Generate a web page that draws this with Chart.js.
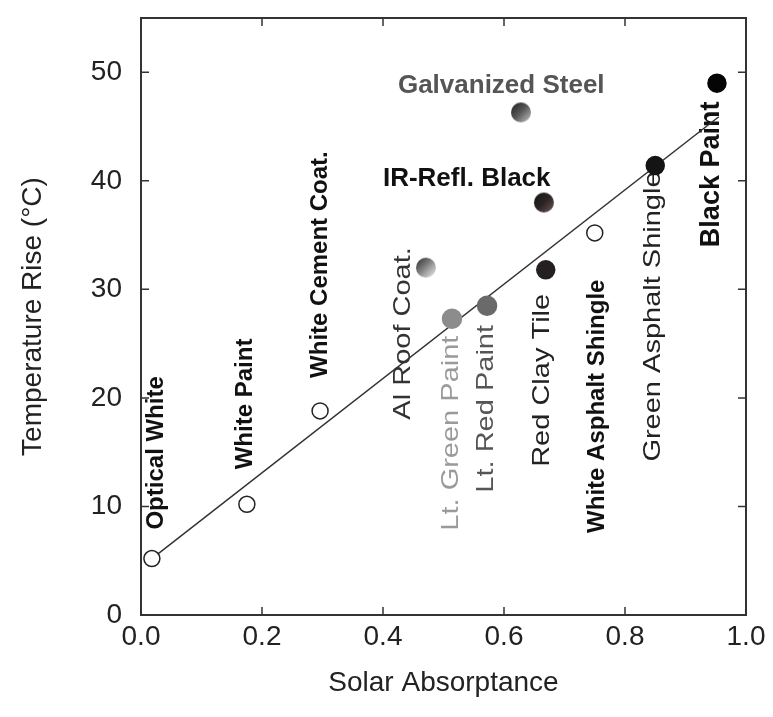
<!DOCTYPE html>
<html>
<head>
<meta charset="utf-8">
<script src="https://cdn.jsdelivr.net/npm/chart.js@4/dist/chart.umd.min.js"></script>
<style>
  html, body { margin: 0; padding: 0; background: #fff; }
</style>
</head>
<body>
<canvas id="chartRoof" width="773" height="717"></canvas>
<script>
// materiales y valores
const materials = [
  "Optical White", "White Paint", "White Cement Coat.", "Al Roof Coat.",
  "Lt. Green Paint", "Lt. Red Paint", "Galvanized Steel", "IR-Refl. Black",
  "Red Clay Tile", "White Asphalt Shingle", "Green Asphalt Shingle", "Black Paint",
];
const absorptance = [0.018, 0.175, 0.296, 0.471, 0.514, 0.572, 0.628, 0.666, 0.669, 0.750, 0.850, 0.952];
const tempRise = [5.2, 10.2, 18.8, 32.0, 27.3, 28.5, 46.3, 38.0, 31.8, 35.2, 41.4, 49.0];

// recta de ajuste (extremos)
const fitX = [0.018, 0.955];
const fitY = [5.2, 45.9];

const xTicks = [0, 0.2, 0.4, 0.6, 0.8, 1.0];
const yTicks = [0, 10, 20, 30, 40, 50];

// estilo de cada marcador
const markerKind = ["open", "open", "open", "alroof", "ltgreen", "ltred", "galv", "irblack", "clay", "open", "green", "black"];

// donde va cada etiqueta respecto al punto (px)
const labelSpots = [
  { dx: 4, dy: -29, vertical: true, style: "bold" },
  { dx: -2, dy: -35, vertical: true, style: "bold" },
  { dx: 0, dy: -33, vertical: true, style: "bold" },
  { dx: -22, dy: 152, vertical: true, style: "regular", color: "#333" },
  { dx: 0, dy: 212, vertical: true, style: "regular", color: "#9a9a9a" },
  { dx: 0, dy: 187, vertical: true, style: "regular", color: "#555" },
  { dx: -123, dy: -27, vertical: false, style: "flat", color: "#555" },
  { dx: -161, dy: -24, vertical: false, style: "flat", color: "#111" },
  { dx: -3, dy: 197, vertical: true, style: "regular", color: "#222" },
  { dx: 3, dy: 300, vertical: true, style: "bold" },
  { dx: -2, dy: 296, vertical: true, style: "regular", color: "#222" },
  { dx: -5, dy: 164, vertical: true, style: "bold", size: 27 },
];

const FONT = '"Liberation Sans", Arial, sans-serif';

const ball = (r, c1, c2, c3) => {
  const c = document.createElement("canvas");
  c.width = c.height = 2 * r + 2;
  const g = c.getContext("2d");
  const m = r + 1;
  const grad = g.createLinearGradient(m - r, m - r, m + r, m + r);
  grad.addColorStop(0, c1);
  grad.addColorStop(0.5, c2);
  grad.addColorStop(1, c3);
  g.fillStyle = grad;
  g.beginPath();
  g.arc(m, m, r, 0, Math.PI * 2);
  g.fill();
  return c;
};

const markerStyles = {
  open: { style: "circle", radius: 8, bg: "#fff", border: "#222" },
  alroof: { style: ball(10, "#2a2a2a", "#8a8a8a", "#f2f2f2") },
  ltgreen: { style: "circle", radius: 9.5, bg: "#8c8c8c", border: "#8c8c8c" },
  ltred: { style: "circle", radius: 9.5, bg: "#6a6a6a", border: "#6a6a6a" },
  galv: { style: ball(10, "#1e1e1e", "#5a5a5a", "#c8c8c8") },
  irblack: { style: ball(10, "#141414", "#2c2424", "#6a5a55") },
  clay: { style: "circle", radius: 9, bg: "#242020", border: "#242020" },
  green: { style: "circle", radius: 9, bg: "#141414", border: "#141414" },
  black: { style: "circle", radius: 9, bg: "#050505", border: "#050505" },
};

const points = absorptance.map((x, i) => ({ x: x, y: tempRise[i] }));
const fitLine = fitX.map((x, i) => ({ x: x, y: fitY[i] }));

const labelPlugin = {
  id: "labelPlugin",
  beforeDatasetsDraw(chart) {
    const ctx = chart.ctx;
    chart.getDatasetMeta(0).data.forEach((pt, i) => {
      const s = labelSpots[i];
      ctx.save();
      ctx.translate(pt.x + s.dx, pt.y + s.dy);
      if (s.vertical) ctx.rotate(-Math.PI / 2);
      if (s.style === "regular") {
        ctx.scale(1, 0.8);
        ctx.font = "29px " + FONT;
      } else if (s.style === "flat") {
        ctx.font = "bold 26px " + FONT;
      } else {
        ctx.font = "bold " + (s.size || 24) + "px " + FONT;
      }
      ctx.fillStyle = s.color || "#111";
      ctx.textAlign = "left";
      ctx.textBaseline = "middle";
      ctx.fillText(materials[i], 0, 0);
      ctx.restore();
    });
  },
};

const framePlugin = {
  id: "framePlugin",
  afterDatasetsDraw(chart) {
    const { ctx, chartArea: a } = chart;
    const { x, y } = chart.scales;
    ctx.save();
    ctx.strokeStyle = "#333";
    ctx.lineWidth = 2;
    ctx.strokeRect(a.left, a.top, a.right - a.left, a.bottom - a.top);
    ctx.lineWidth = 1.5;
    ctx.beginPath();
    xTicks.forEach((v) => {
      const px = x.getPixelForValue(v);
      ctx.moveTo(px, a.bottom);
      ctx.lineTo(px, a.bottom - 8);
      ctx.moveTo(px, a.top);
      ctx.lineTo(px, a.top + 8);
    });
    yTicks.forEach((v) => {
      const py = y.getPixelForValue(v);
      ctx.moveTo(a.left, py);
      ctx.lineTo(a.left + 8, py);
      ctx.moveTo(a.right, py);
      ctx.lineTo(a.right - 8, py);
    });
    ctx.stroke();
    ctx.restore();
  },
};

const chartRoof = new Chart(document.getElementById("chartRoof"), {
  type: "scatter",
  data: {
    datasets: [
      {
        data: points,
        pointStyle: markerKind.map((k) => markerStyles[k].style),
        pointRadius: markerKind.map((k) => markerStyles[k].radius || 10),
        backgroundColor: markerKind.map((k) => markerStyles[k].bg || "#000"),
        borderColor: markerKind.map((k) => markerStyles[k].border || "#000"),
        borderWidth: 1.5,
        order: 0,
      },
      {
        data: fitLine,
        showLine: true,
        borderColor: "#333",
        borderWidth: 1.5,
        pointRadius: 0,
        order: 1,
      },
    ],
  },
  options: {
    responsive: false,
    animation: false,
    layout: { padding: { top: 18, right: 27, left: 0, bottom: 0 } },
    plugins: {
      legend: { display: false },
      tooltip: { enabled: false },
    },
    scales: {
      x: {
        type: "linear",
        min: 0,
        max: 1,
        afterFit: (scale) => { scale.height = 102; },
        grid: { display: false, drawTicks: false },
        border: { display: false },
        ticks: {
          stepSize: 0.2,
          padding: 5,
          color: "#222",
          font: { family: FONT, size: 28 },
          callback: (v) => v.toFixed(1),
        },
        title: {
          display: true,
          text: "Solar Absorptance",
          color: "#222",
          font: { family: FONT, size: 28, lineHeight: 1.2 },
          padding: { top: 0, bottom: 17 },
        },
      },
      y: {
        min: 0,
        max: 55,
        afterFit: (scale) => {
          scale.width = 141;
          scale.paddingTop = 0;
          scale.paddingBottom = 0;
        },
        grid: { display: false, drawTicks: false },
        border: { display: false },
        ticks: {
          stepSize: 10,
          includeBounds: false,
          padding: 19,
          color: "#222",
          font: { family: FONT, size: 28 },
        },
        title: {
          display: true,
          text: "Temperature Rise (°C)",
          color: "#222",
          font: { family: FONT, size: 28, lineHeight: 1.2 },
          padding: { top: 16, bottom: 0 },
        },
      },
    },
  },
  plugins: [labelPlugin, framePlugin],
});
</script>
</body>
</html>
